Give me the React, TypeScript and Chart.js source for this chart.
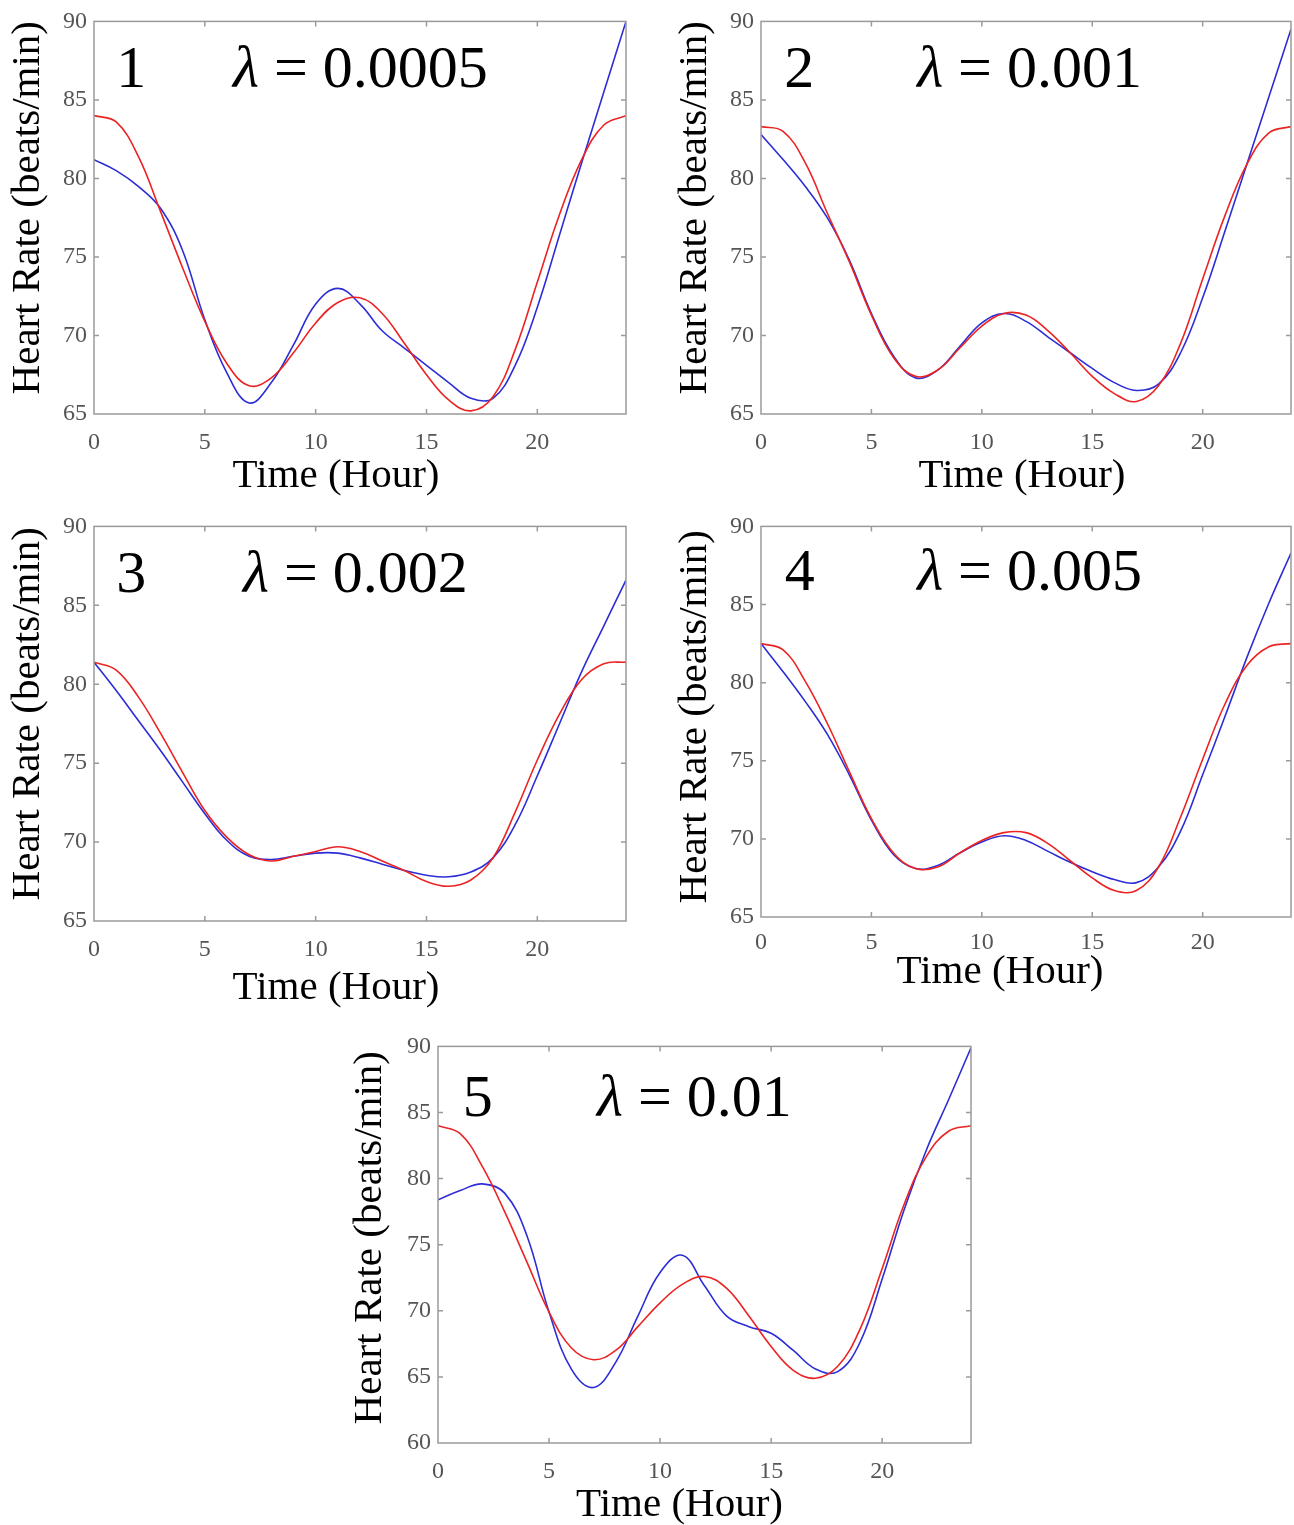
import React, { useEffect, useRef } from "react";
import { Chart, registerables } from "chart.js";

Chart.register(...registerables);

// ---------- data ----------
const hours = [0, 1, 2, 3, 4, 5, 6, 7, 8, 9, 10, 11, 12, 13, 14, 15, 16, 17, 18, 19, 20, 21, 22, 23, 24];
const xTickValues = [0, 5, 10, 15, 20];
const yTickValuesA = [65, 70, 75, 80, 85, 90];
const yTickValuesB = [60, 65, 70, 75, 80, 85, 90];

const blue1 = [81.2, 80.5, 79.5, 78.1, 75.4, 71.0, 67.6, 65.7, 67.0, 69.4, 72.0, 73.0, 72.0, 70.3, 69.2, 68.1, 67.0, 66.0, 66.0, 68.1, 71.8, 76.4, 81.0, 85.5, 90.0];
const red1 = [84.0, 83.6, 81.4, 77.9, 74.3, 70.9, 68.2, 66.8, 67.3, 68.9, 70.8, 72.1, 72.4, 71.4, 69.5, 67.5, 65.9, 65.2, 66.1, 69.1, 73.4, 77.7, 81.2, 83.4, 84.0];

const blue2 = [82.8, 81.2, 79.5, 77.5, 74.8, 71.4, 68.7, 67.3, 67.8, 69.3, 70.8, 71.4, 70.9, 69.9, 68.9, 67.9, 67.0, 66.5, 66.9, 68.9, 72.4, 76.6, 80.9, 85.2, 89.5];
const red2 = [83.3, 83.0, 81.0, 77.8, 74.7, 71.3, 68.6, 67.4, 67.8, 69.2, 70.6, 71.4, 71.3, 70.3, 68.9, 67.4, 66.3, 65.8, 66.8, 69.5, 73.6, 77.6, 80.9, 82.9, 83.3];

const blue3 = [81.4, 79.6, 77.7, 75.8, 73.8, 71.8, 70.1, 69.1, 68.9, 69.1, 69.3, 69.3, 69.0, 68.6, 68.2, 67.9, 67.8, 68.1, 69.0, 71.1, 74.2, 77.5, 80.8, 83.7, 86.6];
const red3 = [81.4, 80.9, 79.2, 76.9, 74.4, 72.0, 70.3, 69.2, 68.8, 69.1, 69.4, 69.7, 69.4, 68.8, 68.2, 67.5, 67.2, 67.6, 69.0, 71.9, 75.2, 78.1, 80.3, 81.3, 81.4];

const blue4 = [82.5, 80.7, 78.8, 76.7, 74.1, 71.2, 69.0, 68.1, 68.3, 69.1, 69.8, 70.2, 69.9, 69.2, 68.5, 67.9, 67.4, 67.2, 68.2, 70.5, 74.1, 77.8, 81.6, 85.1, 88.3];
const red4 = [82.5, 82.1, 80.1, 77.4, 74.3, 71.3, 69.1, 68.1, 68.2, 69.1, 69.9, 70.4, 70.4, 69.7, 68.6, 67.5, 66.7, 66.7, 68.2, 71.4, 75.1, 78.6, 81.1, 82.3, 82.5];

const blue5 = [78.4, 79.1, 79.6, 78.9, 75.7, 69.9, 65.6, 64.2, 66.1, 69.6, 72.9, 74.2, 71.9, 69.6, 68.8, 68.3, 67.0, 65.6, 65.4, 67.6, 72.4, 77.7, 82.2, 86.0, 89.9];
const red5 = [84.0, 83.4, 80.9, 77.5, 73.7, 69.9, 67.2, 66.3, 67.0, 68.8, 70.6, 72.0, 72.6, 71.7, 69.6, 67.3, 65.5, 64.9, 65.8, 68.6, 73.2, 78.1, 81.7, 83.6, 84.0];

const panelNumbers = ["1", "2", "3", "4", "5"];
const lambdaValues = ["0.0005", "0.001", "0.002", "0.005", "0.01"];
const yMins = [65, 65, 65, 65, 60];
const yMaxs = [90, 90, 90, 90, 90];
const yTickSets = [yTickValuesA, yTickValuesA, yTickValuesA, yTickValuesA, yTickValuesB];
const blueSeries = [blue1, blue2, blue3, blue4, blue5];
const redSeries = [red1, red2, red3, red4, red5];

const xTitle = "Time (Hour)";
const yTitle = "Heart Rate (beats/min)";

// ---------- layout (page pixels) ----------
type Layout = {
  cl: number; ct: number; w: number; h: number;
  l: number; t: number; r: number; b: number;
  xTickPad: number;
  xTitleY: number; xTitleDx: number; yTitleX: number; yTitleDy: number;
  numX: number; lamX: number; annY: number;
};
const layouts: Layout[] = [
  { cl: 0, ct: 0, w: 647, h: 505, l: 94, t: 16, r: 626, b: 414, xTickPad: 14, xTitleY: 476, xTitleDx: -24, yTitleX: 28, yTitleDy: -10, numX: 1.0, lamX: 6.27, annY: 85.85 },
  { cl: 647, ct: 0, w: 647, h: 505, l: 761, t: 16, r: 1291, b: 414, xTickPad: 14, xTitleY: 476, xTitleDx: -4, yTitleX: 695, yTitleDy: -10, numX: 1.05, lamX: 7.07, annY: 85.85 },
  { cl: 0, ct: 505, w: 647, h: 520, l: 94, t: 521, r: 626, b: 921, xTickPad: 14, xTitleY: 988, xTitleDx: -24, yTitleX: 28, yTitleDy: -10, numX: 1.0, lamX: 6.72, annY: 85.85 },
  { cl: 647, ct: 505, w: 647, h: 500, l: 761, t: 517, r: 1291, b: 917, xTickPad: 11, xTitleY: 972, xTitleDx: -26, yTitleX: 695, yTitleDy: -5, numX: 1.08, lamX: 7.07, annY: 85.9 },
  { cl: 330, ct: 1025, w: 660, h: 500, l: 438, t: 1043, r: 971, b: 1443, xTickPad: 14, xTitleY: 1505, xTitleDx: -25, yTitleX: 370, yTitleDy: -7, numX: 1.12, lamX: 7.16, annY: 84.75 },
];

const FONT = '"Liberation Serif", "Times New Roman", serif';
const TITLE_SIZE = 41;
const TICK_SIZE = 24;
const ANN_SIZE = 60;
const FRAME_COLOR = "#9a9a9a";

const framePlugin = {
  id: "frame",
  afterDatasetsDraw(chart: any, _args: any, opts: any) {
    const { ctx, chartArea: a, scales } = chart;
    const L = 5;
    ctx.save();
    ctx.strokeStyle = FRAME_COLOR;
    ctx.lineWidth = 1.5;
    ctx.beginPath();
    for (const t of scales.x.ticks) {
      const px = scales.x.getPixelForValue(t.value);
      if (px <= a.left + 1 || px >= a.right - 1) continue;
      ctx.moveTo(px, a.bottom);
      ctx.lineTo(px, a.bottom - L);
      ctx.moveTo(px, a.top);
      ctx.lineTo(px, a.top + L);
    }
    for (const t of scales.y.ticks) {
      const py = scales.y.getPixelForValue(t.value);
      if (py <= a.top + 1 || py >= a.bottom - 1) continue;
      ctx.moveTo(a.left, py);
      ctx.lineTo(a.left + L, py);
      ctx.moveTo(a.right, py);
      ctx.lineTo(a.right - L, py);
    }
    ctx.stroke();
    ctx.strokeRect(a.left, a.top, a.right - a.left, a.bottom - a.top);

    // annotation inside the plot
    const y0 = scales.y.getPixelForValue(opts.annY);
    ctx.fillStyle = "#000";
    ctx.textAlign = "left";
    ctx.textBaseline = "alphabetic";
    ctx.font = `${ANN_SIZE}px ${FONT}`;
    ctx.fillText(opts.num, scales.x.getPixelForValue(opts.numX), y0);
    let x1 = scales.x.getPixelForValue(opts.lamX);
    ctx.font = `italic ${ANN_SIZE}px ${FONT}`;
    ctx.fillText("\u03BB", x1, y0);
    x1 += ctx.measureText("\u03BB").width;
    ctx.font = `${ANN_SIZE}px ${FONT}`;
    ctx.fillText(" = " + opts.lambda, x1, y0);

    // axis titles
    ctx.font = `${TITLE_SIZE}px ${FONT}`;
    ctx.textAlign = "center";
    ctx.textBaseline = "middle";
    ctx.fillText(xTitle, (a.left + a.right) / 2 + opts.xTitleDx, opts.xTitleY);
    ctx.translate(opts.yTitleX, (a.top + a.bottom) / 2 + opts.yTitleDy);
    ctx.rotate(-Math.PI / 2);
    ctx.fillText(yTitle, 0, 0);
    ctx.restore();
  },
};

function Panel({ idx }: { idx: number }) {
  const ref = useRef<HTMLCanvasElement | null>(null);
  const lay = layouts[idx];
  useEffect(() => {
    if (!ref.current) return;
    const yAxisWidth = lay.l - lay.cl;
    const xAxisHeight = lay.h - (lay.b - lay.ct);
    const yTicks = yTickSets[idx];
    const chart = new Chart(ref.current, {
      type: "line",
      data: {
        datasets: [
          {
            label: "fit",
            data: hours.map((h, i) => ({ x: h, y: redSeries[idx][i] })),
            borderColor: "rgb(235,35,35)",
            borderWidth: 1.6,
            pointRadius: 0,
            tension: 0.4,
            fill: false,
          },
          {
            label: "data",
            data: hours.map((h, i) => ({ x: h, y: blueSeries[idx][i] })),
            borderColor: "rgb(45,45,215)",
            borderWidth: 1.6,
            pointRadius: 0,
            tension: 0.4,
            fill: false,
          },
        ],
      },
      options: {
        animation: false,
        responsive: false,
        devicePixelRatio: 1,
        layout: {
          padding: { left: 0, bottom: 0, top: lay.t - lay.ct, right: lay.cl + lay.w - lay.r },
        },
        plugins: {
          legend: { display: false },
          tooltip: { enabled: false },
          frame: {
            num: panelNumbers[idx],
            lambda: lambdaValues[idx],
            numX: lay.numX,
            lamX: lay.lamX,
            annY: lay.annY,
            xTitleY: lay.xTitleY - lay.ct,
            xTitleDx: lay.xTitleDx,
            yTitleX: lay.yTitleX - lay.cl,
            yTitleDy: lay.yTitleDy,
          },
        } as any,
        scales: {
          x: {
            type: "linear",
            min: 0,
            max: 24,
            grid: { display: false, drawTicks: false },
            border: { display: false },
            afterBuildTicks: (s: any) => { s.ticks = xTickValues.map((v) => ({ value: v })); },
            afterFit: (s: any) => { s.height = xAxisHeight; },
            ticks: {
              padding: lay.xTickPad,
              color: "#555555",
              font: { family: FONT, size: TICK_SIZE },
              maxRotation: 0,
              autoSkip: false,
            },
            title: { display: false },
          },
          y: {
            type: "linear",
            min: yMins[idx],
            max: yMaxs[idx],
            grid: { display: false, drawTicks: false },
            border: { display: false },
            afterBuildTicks: (s: any) => { s.ticks = yTicks.map((v) => ({ value: v })); },
            afterFit: (s: any) => { s.width = yAxisWidth; },
            ticks: {
              padding: 7,
              color: "#555555",
              font: { family: FONT, size: TICK_SIZE },
              autoSkip: false,
            },
            title: { display: false },
          },
        },
      },
      plugins: [framePlugin as any],
    });
    return () => chart.destroy();
  }, [idx]);
  return (
    <canvas
      ref={ref}
      width={lay.w}
      height={lay.h}
      style={{ position: "absolute", left: lay.cl, top: lay.ct, width: lay.w, height: lay.h }}
    />
  );
}

export default function App() {
  return (
    <div style={{ position: "absolute", left: 0, top: 0, width: 1294, height: 1525, background: "#fff" }}>
      {[0, 1, 2, 3, 4].map((i) => (
        <Panel key={i} idx={i} />
      ))}
    </div>
  );
}
